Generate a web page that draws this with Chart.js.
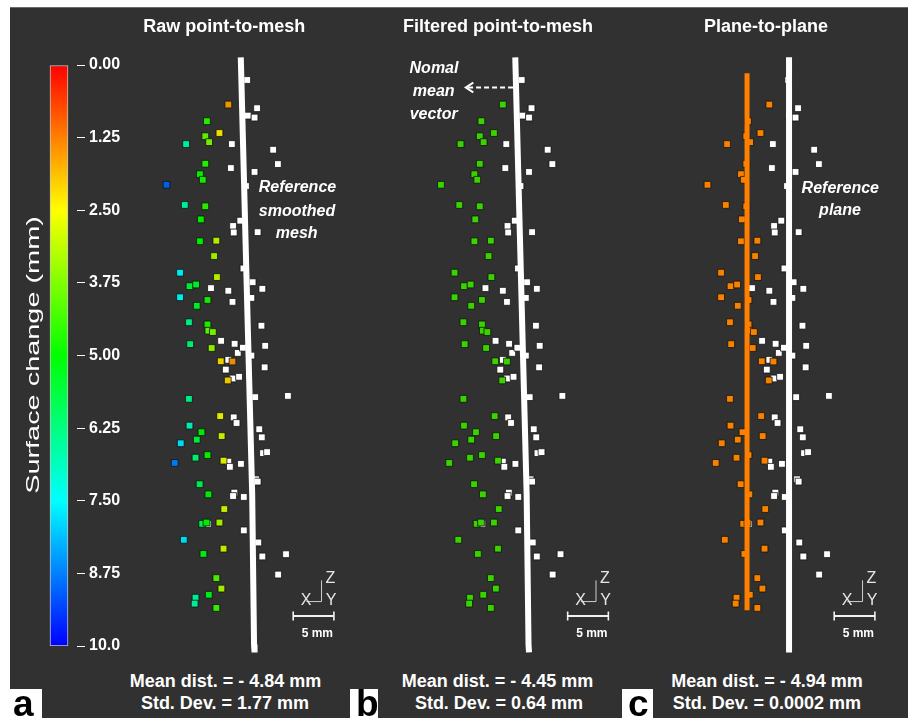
<!DOCTYPE html>
<html>
<head>
<meta charset="utf-8">
<script src="https://cdn.jsdelivr.net/npm/chart.js@4.4.1/dist/chart.umd.min.js"></script>
<style>
html,body{margin:0;padding:0;background:#fff;}
#fig{position:relative;width:908px;height:718px;overflow:hidden;background:#fff;font-family:"Liberation Sans",Arial,sans-serif;}
#bg{position:absolute;left:10px;top:7px;width:898px;height:711px;background:#313131;border-top:1px solid #6a6a6a;}
canvas{position:absolute;}
.t{position:absolute;color:#fff;white-space:nowrap;transform:translate(-50%,-50%);line-height:1;}
.title{font-size:18px;font-weight:bold;}
.stat{font-size:18px;font-weight:bold;}
.note{font-size:16px;font-weight:bold;font-style:italic;}
.axl{font-size:16px;color:#e6e6e6;}
.sb{font-size:12px;font-weight:bold;}
.box{position:absolute;background:#fff;color:#000;font-weight:bold;font-size:37px;line-height:29px;height:29px;overflow:hidden;}
</style>
</head>
<body>
<div id="fig">
  <div id="bg"></div>
  <canvas id="cb" width="91" height="621" style="left:41px;top:45px;width:91px;height:621px"></canvas>
  <canvas id="pa" width="216" height="640" style="left:138px;top:30px;width:216px;height:640px"></canvas>
  <canvas id="pb" width="216" height="640" style="left:412px;top:30px;width:216px;height:640px"></canvas>
  <canvas id="pc" width="216" height="640" style="left:679px;top:30px;width:216px;height:640px"></canvas>
  <div class="t" id="cbTitle" style="left:32px;top:355px;font-size:19px;transform:translate(-50%,-50%) rotate(-90deg) scaleX(1.52);">Surface change (mm)</div>
</div>
<script>
// ---------------- data ----------------
const PANEL_TITLES = ["Raw point-to-mesh", "Filtered point-to-mesh", "Plane-to-plane"];
const MEAN_TEXT = ["Mean dist. = - 4.84 mm", "Mean dist. = - 4.45 mm", "Mean dist. = - 4.94 mm"];
const STD_TEXT = ["Std. Dev. = 1.77 mm", "Std. Dev. = 0.64 mm", "Std. Dev. = 0.0002 mm"];
const PANEL_LETTERS = ["a", "b", "c"];

// points below the reference surface (coloured), mm
const COLORED_X = [7.83,5.20,6.74,5.00,5.47,2.64,5.00,4.34,4.69,0.23,2.48,5.00,4.45,4.34,6.36,6.08,1.90,6.43,3.06,3.87,1.90,5.27,3.95,2.99,5.27,5.38,5.93,3.14,5.78,6.90,8.34,7.76,2.99,6.83,3.06,4.53,3.95,7.01,1.98,5.27,3.80,1.24,7.24,4.30,5.38,7.33,4.62,5.15,6.74,2.36,4.77,7.24,6.36,6.98,5.43,3.80,3.69,6.36];
const COLORED_Y = [64.88,62.91,61.51,61.13,60.43,60.20,57.87,56.63,55.97,55.38,52.99,52.83,51.28,48.69,48.76,46.94,44.97,44.45,43.37,43.57,42.06,41.74,41.05,39.10,38.84,38.10,37.94,36.51,36.05,34.48,34.45,32.21,30.03,27.99,26.86,26.08,25.20,25.62,24.77,23.37,23.06,22.44,22.71,19.92,18.72,16.98,15.23,15.38,15.38,13.34,11.66,12.29,8.80,7.56,6.83,6.48,5.78,5.27];
// raw point-to-mesh surface change of those points, mm
const RAW_CHANGE = [-1.6,-4.6,-2.4,-4.0,-3.8,-6.7,-4.6,-4.9,-4.8,-9.0,-6.7,-4.6,-5.0,-5.0,-3.1,-3.3,-7.5,-3.1,-5.6,-5.4,-7.5,-4.8,-5.4,-6.4,-4.7,-4.0,-3.7,-6.2,-3.5,-2.2,-1.5,-2.1,-6.4,-2.6,-6.9,-5.0,-5.6,-2.9,-7.7,-4.9,-6.2,-8.7,-2.7,-5.8,-5.0,-2.9,-5.8,-5.0,-3.3,-7.7,-5.2,-3.0,-4.2,-3.3,-5.2,-6.6,-6.6,-4.4];
// reference points (white), mm
const WHITE_X = [10.15,11.36,10.23,11.05,8.26,13.34,13.92,8.14,11.05,10.00,9.30,8.41,8.49,11.43,9.69,5.70,7.83,10.81,12.01,10.66,8.34,11.90,6.94,8.60,8.99,9.62,12.36,10.66,7.83,12.29,7.52,8.37,9.15,11.13,15.15,8.49,8.84,11.63,11.94,12.09,12.59,7.83,8.02,9.38,11.24,11.43,8.57,8.41,9.73,5.31,9.73,11.51,12.01,14.92,13.95];
const WHITE_Y = [67.79,64.45,63.57,63.34,60.20,59.53,57.83,57.36,56.90,55.23,51.13,50.50,49.73,49.77,45.47,43.14,42.83,43.84,43.06,41.98,41.51,38.69,36.90,36.55,35.47,36.08,36.31,35.15,34.65,33.76,33.49,32.44,32.64,30.23,30.38,27.83,27.17,26.43,25.47,23.60,23.72,22.59,21.98,22.33,20.50,20.23,18.92,18.52,18.41,15.23,14.45,13.02,11.36,11.63,9.22];
// reference smoothed mesh profile, mm
const MESH_X = [9.36,10.23,10.76,10.99,11.05];
const MESH_Y = [70.47,38.14,18.72,0.93,0];
// reference plane and fitted plane (panel c), mm
const REF_PLANE_X = [10.25,10.25];
const REF_PLANE_Y = [0,70.47];
const FIT_PLANE_X = [5.09,5.09];
const FIT_PLANE_Y = [5.0,68.6];
// normal mean vector arrow (panel b), mm
const ARROW_X = [9.09,3.28];
const ARROW_Y = [66.9,66.9];
// scale bar
const SCALE_BAR = {x0: 15.8, y: 4.3, len: 5, label: "5 mm"};
const GLYPH = {x: 19.22, y: 6.08};
// colour bar
const CB_TICKS = [0,-1.25,-2.5,-3.75,-5,-6.25,-7.5,-8.75,-10];
const CB_LABELS = ["0.00","1.25","2.50","3.75","5.00","6.25","7.50","8.75","10.0"];

// ---------------- layout ----------------
const PXMM = 8.6;           // pixels per mm
const PANELS = [            // page origin of (0,0) mm, canvas box
  {id:"pa", ox:160,   oy:658, left:138, top:30, w:216, h:640, kind:"a"},
  {id:"pb", ox:434.5, oy:658, left:412, top:30, w:216, h:640, kind:"b"},
  {id:"pc", ox:701,   oy:658, left:679, top:30, w:216, h:640, kind:"c"}
];
const FONT = '"Liberation Sans", Arial, sans-serif';

function hsv(h, s, v) {
  const f = (n) => { const k = (n + h / 60) % 6; return v - v * s * Math.max(0, Math.min(k, 4 - k, 1)); };
  return `rgb(${Math.round(f(5)*255)},${Math.round(f(3)*255)},${Math.round(f(1)*255)})`;
}
function jet(val, bright) {
  const h = Math.max(0, Math.min(240, -val / 10 * 240));
  return hsv(h, 1, bright);
}
const xy = (X, Y) => X.map((x, i) => ({x, y: Y[i]}));

const decorPlugin = {
  id: "decor",
  afterDatasetsDraw(chart, args, opts) {
    const {ctx, scales: {x, y}} = chart;
    ctx.save();
    // scale bar
    const p0 = x.getPixelForValue(SCALE_BAR.x0), p1 = x.getPixelForValue(SCALE_BAR.x0 + SCALE_BAR.len);
    const py = y.getPixelForValue(SCALE_BAR.y);
    ctx.strokeStyle = "#f2f2f2";
    ctx.lineWidth = 2;
    ctx.beginPath(); ctx.moveTo(p0, py); ctx.lineTo(p1, py); ctx.stroke();
    ctx.lineWidth = 1.6;
    ctx.beginPath(); ctx.moveTo(p0, py - 4.5); ctx.lineTo(p0, py + 4.5);
    ctx.moveTo(p1, py - 4.5); ctx.lineTo(p1, py + 4.5); ctx.stroke();
    // axis glyph
    const gx = x.getPixelForValue(GLYPH.x), gy = y.getPixelForValue(GLYPH.y);
    ctx.strokeStyle = "#cfcfcf"; ctx.lineWidth = 1;
    ctx.beginPath(); ctx.moveTo(gx + 0.5, gy - 20.7); ctx.lineTo(gx + 0.5, gy + 0.5); ctx.lineTo(gx - 14.6, gy + 0.5); ctx.stroke();
    // arrow
    if (opts.arrow) {
      const ax0 = x.getPixelForValue(ARROW_X[0]), ax1 = x.getPixelForValue(ARROW_X[1]);
      const ay = y.getPixelForValue(ARROW_Y[0]);
      ctx.strokeStyle = "#ffffff"; ctx.lineWidth = 2;
      ctx.setLineDash([5, 3]);
      ctx.beginPath(); ctx.moveTo(ax0, ay); ctx.lineTo(ax1 + 2, ay); ctx.stroke();
      ctx.setLineDash([]);
      ctx.beginPath(); ctx.moveTo(ax1 + 7.5, ay - 4.8); ctx.lineTo(ax1, ay); ctx.lineTo(ax1 + 7.5, ay + 4.8); ctx.stroke();
    }
    ctx.restore();
  }
};

function pointSet(data, fill, order) {
  return {type: "scatter", data, backgroundColor: fill, borderColor: "rgba(15,15,15,0.75)", borderWidth: 1,
          pointStyle: "rect", pointRadius: 4.8, pointHoverRadius: 4.8, order, clip: false};
}
function lineSet(data, color, width, order) {
  return {type: "line", data, borderColor: color, borderWidth: width, pointRadius: 0, fill: false,
          tension: 0, borderCapStyle: "butt", order, clip: false};
}

const fig = document.getElementById("fig");
function addText(cls, txt, x, y, extra) {
  const d = document.createElement("div");
  d.className = "t " + cls; d.textContent = txt;
  d.style.left = x + "px"; d.style.top = y + "px";
  if (extra) Object.assign(d.style, extra);
  fig.appendChild(d);
  return d;
}

PANELS.forEach((P, k) => {
  const colored = xy(COLORED_X, COLORED_Y);
  const white = xy(WHITE_X, WHITE_Y);
  let colFill;
  if (P.kind === "a") colFill = RAW_CHANGE.map(v => jet(v, 0.92));
  else if (P.kind === "b") colFill = "rgb(58,210,0)";
  else colFill = "rgb(246,130,0)";
  const datasets = [];
  if (P.kind === "c") {
    datasets.push(lineSet(xy(REF_PLANE_X, REF_PLANE_Y), "#ffffff", 6, 0));
    datasets.push(lineSet(xy(FIT_PLANE_X, FIT_PLANE_Y), "rgb(255,128,0)", 5, 0));
  } else {
    datasets.push(lineSet(xy(MESH_X, MESH_Y), "#ffffff", 6, 0));
  }
  datasets.push(pointSet(white, "#ffffff", 2));
  datasets.push(pointSet(colored, colFill, 1));
  new Chart(document.getElementById(P.id), {
    type: "scatter",
    data: {datasets},
    options: {
      responsive: false, animation: false, events: [],
      layout: {padding: 0},
      plugins: {legend: {display: false}, tooltip: {enabled: false}, decor: {arrow: P.kind === "b"}},
      scales: {
        x: {type: "linear", display: false, min: (P.left - P.ox) / PXMM, max: (P.left + P.w - P.ox) / PXMM},
        y: {type: "linear", display: false, min: (P.oy - (P.top + P.h)) / PXMM, max: (P.oy - P.top) / PXMM}
      }
    },
    plugins: [decorPlugin]
  });

  // texts
  addText("title", PANEL_TITLES[k], [224.3, 498, 766][k], 25.5);
  addText("stat", MEAN_TEXT[k], [225.5, 497.5, 767][k], 681);
  addText("stat", STD_TEXT[k], [225, 499, 767][k], 702.7);
  const gxp = P.ox + GLYPH.x * PXMM, gyp = P.oy - GLYPH.y * PXMM;
  addText("axl", "Z", gxp + 5.2, gyp - 28.2);
  addText("axl", "X", gxp - 19.3, gyp - 6.2);
  addText("axl", "Y", gxp + 5.7, gyp - 6.2);
  addText("sb", SCALE_BAR.label, P.ox + (SCALE_BAR.x0 + SCALE_BAR.len / 2) * PXMM, P.oy - SCALE_BAR.y * PXMM + 11.5);
  const bx = [10, 350, 622][k], bw = [32, 28, 31][k], pad = [3, 6, 6][k];
  const b = document.createElement("div");
  b.className = "box"; b.textContent = PANEL_LETTERS[k];
  Object.assign(b.style, {left: bx + "px", top: "689px", width: (bw - pad) + "px", paddingLeft: pad + "px"});
  fig.appendChild(b);
});

addText("note", "Reference", 297.5, 187.2);
addText("note", "smoothed", 297, 210.5);
addText("note", "mesh", 296.7, 232.7);
addText("note", "Nomal", 434, 68);
addText("note", "mean", 433.7, 91.3);
addText("note", "vector", 433.7, 113.6);
addText("note", "Reference", 840.3, 187.5);
addText("note", "plane", 840, 210);

// colour bar
new Chart(document.getElementById("cb"), {
  type: "bar",
  data: {labels: ["Surface change (mm)"], datasets: [{
    data: [[-10, 0]],
    barThickness: 18,
    borderColor: "#c4c4c4", borderWidth: 1, borderSkipped: false,
    backgroundColor: (c) => {
      const a = c.chart.chartArea;
      if (!a) return "#f00";
      const g = c.chart.ctx.createLinearGradient(0, a.top, 0, a.bottom);
      for (let i = 0; i <= 24; i++) { const t = i / 24; g.addColorStop(t, hsv(240 * t, 1, 1)); }
      return g;
    }
  }]},
  options: {
    responsive: false, animation: false, events: [],
    layout: {padding: {top: 20, bottom: 20, left: 0, right: 0}},
    plugins: {legend: {display: false}, tooltip: {enabled: false}},
    scales: {
      x: {display: false},
      y: {
        position: "right", min: -10, max: 0,
        afterBuildTicks: (s) => { s.ticks = CB_TICKS.map(v => ({value: v})); },
        afterFit: (s) => { s.width = 55; },
        ticks: {callback: (v) => CB_LABELS[CB_TICKS.indexOf(v)], color: "#ffffff", padding: 4,
                font: {family: FONT, size: 16, weight: "bold"}, autoSkip: false},
        grid: {drawOnChartArea: false, drawTicks: true, tickLength: 8, color: "#ffffff", lineWidth: 1},
        border: {display: false}
      }
    }
  }
});
</script>
</body>
</html>
